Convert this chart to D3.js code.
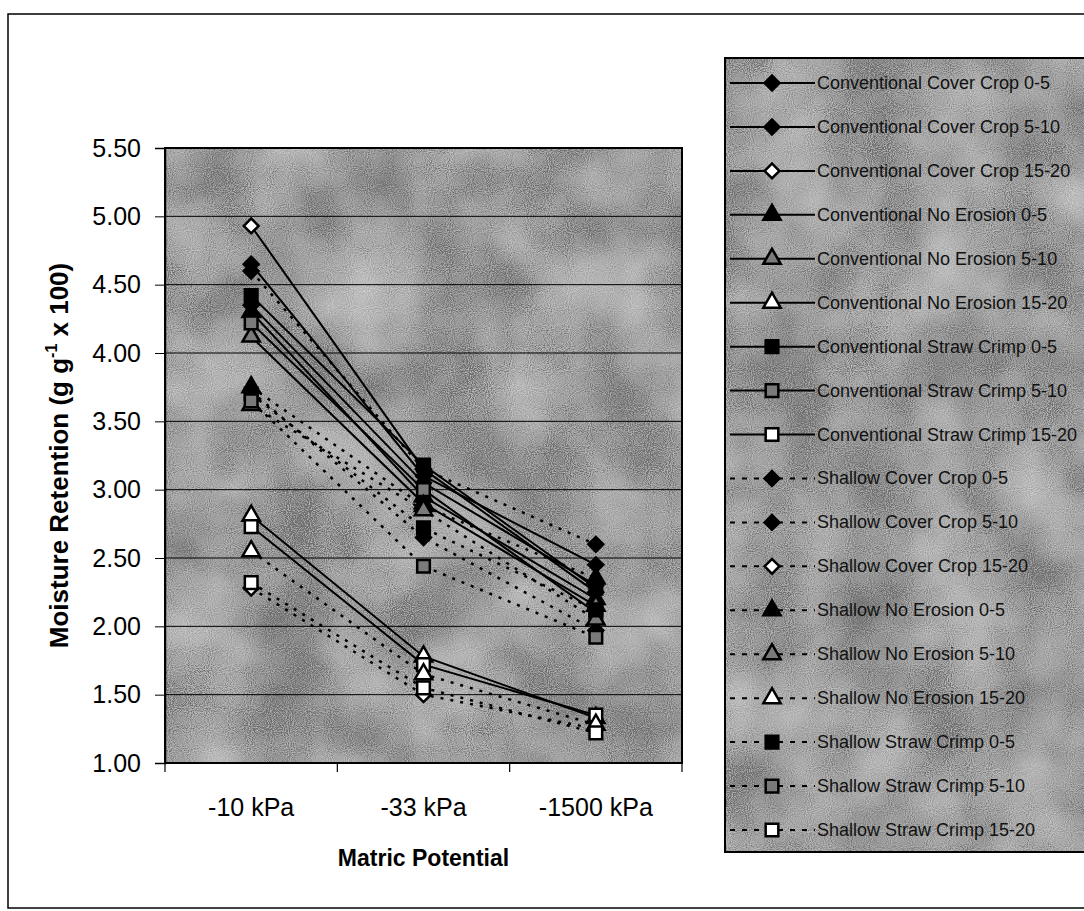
<!DOCTYPE html>
<html>
<head>
<meta charset="utf-8">
<script src="https://cdn.jsdelivr.net/npm/d3@7"></script>
<style>
  body { margin: 0; background: #fff; }
  svg { display: block; font-family: Arial, "Liberation Sans", sans-serif; }
</style>
</head>
<body>
<script>
// categories on the x axis
const categories = ["-10 kPa", "-33 kPa", "-1500 kPa"];

const seriesNames = [
  "Conventional Cover Crop 0-5",
  "Conventional Cover Crop 5-10",
  "Conventional Cover Crop 15-20",
  "Conventional No Erosion 0-5",
  "Conventional No Erosion 5-10",
  "Conventional No Erosion 15-20",
  "Conventional Straw Crimp 0-5",
  "Conventional Straw Crimp 5-10",
  "Conventional Straw Crimp 15-20",
  "Shallow Cover Crop 0-5",
  "Shallow Cover Crop 5-10",
  "Shallow Cover Crop 15-20",
  "Shallow No Erosion 0-5",
  "Shallow No Erosion 5-10",
  "Shallow No Erosion 15-20",
  "Shallow Straw Crimp 0-5",
  "Shallow Straw Crimp 5-10",
  "Shallow Straw Crimp 15-20"
];

// values at -10, -33, -1500 kPa
const convCoverCrop = [[4.65, 3.10, 2.45], [4.35, 3.05, 2.30], [4.93, 3.15, 2.25]];
const convNoErosion = [[4.30, 2.95, 2.20], [4.12, 2.90, 2.15], [2.81, 1.78, 1.33]];
const convStrawCrimp = [[4.42, 3.18, 2.28], [4.22, 3.00, 2.10], [2.73, 1.72, 1.35]];
const shalCoverCrop = [[4.60, 3.15, 2.60], [3.72, 2.65, 1.97], [2.28, 1.50, 1.25]];
const shalNoErosion = [[3.75, 2.88, 2.35], [3.62, 2.85, 2.05], [2.55, 1.65, 1.28]];
const shalStrawCrimp = [[3.70, 2.72, 2.12], [3.65, 2.44, 1.92], [2.32, 1.55, 1.22]];

const seriesValues = [].concat(convCoverCrop, convNoErosion, convStrawCrimp,
  shalCoverCrop, shalNoErosion, shalStrawCrimp);

const yTicks = [1.0, 1.5, 2.0, 2.5, 3.0, 3.5, 4.0, 4.5, 5.0, 5.5];

// marker look per series (style, not data)
const shapes = ["diamond", "diamond", "diamond", "triangle", "triangle", "triangle", "square", "square", "square"];
const fills = ["black", "black", "white", "black", "open", "white", "black", "open", "white"];

const width = 1084, height = 911;
const plot = { left: 165, right: 682, top: 148, bottom: 763 };

const svg = d3.select("body").append("svg")
  .attr("width", width)
  .attr("height", height);

// mottled gray texture like the scanned original
const defs = svg.append("defs");
const f = defs.append("filter").attr("id", "mottle")
  .attr("x", 0).attr("y", 0).attr("width", 1).attr("height", 1);
f.append("feTurbulence").attr("type", "fractalNoise")
  .attr("baseFrequency", 0.012).attr("numOctaves", 3).attr("seed", 4).attr("result", "big");
f.append("feTurbulence").attr("type", "fractalNoise")
  .attr("baseFrequency", 0.95).attr("numOctaves", 1).attr("seed", 2).attr("result", "fine");
f.append("feComposite").attr("in", "big").attr("in2", "fine")
  .attr("operator", "arithmetic").attr("k1", 0).attr("k2", 0.6).attr("k3", 0.85).attr("k4", -0.22)
  .attr("result", "mix");
f.append("feColorMatrix").attr("in", "mix").attr("type", "matrix")
  .attr("values", "0.65 0 0 0 0.16  0.65 0 0 0 0.16  0.65 0 0 0 0.16  0 0 0 0 1");

// outer chart frame
svg.append("rect")
  .attr("x", 8).attr("y", 14)
  .attr("width", 1100).attr("height", 894)
  .attr("fill", "white").attr("stroke", "black").attr("stroke-width", 1.5);

const x = d3.scaleBand().domain(categories).range([plot.left, plot.right]);
const y = d3.scaleLinear().domain([1, 5.5]).range([plot.bottom, plot.top]);

// plot area
svg.append("rect")
  .attr("x", plot.left).attr("y", plot.top)
  .attr("width", plot.right - plot.left).attr("height", plot.bottom - plot.top)
  .attr("filter", "url(#mottle)");

// grid
svg.append("g")
  .selectAll("line")
  .data(yTicks)
  .join("line")
  .attr("x1", plot.left).attr("x2", plot.right)
  .attr("y1", (d) => y(d)).attr("y2", (d) => y(d))
  .attr("stroke", "black").attr("stroke-width", 1);

svg.append("rect")
  .attr("x", plot.left).attr("y", plot.top)
  .attr("width", plot.right - plot.left).attr("height", plot.bottom - plot.top)
  .attr("fill", "none").attr("stroke", "black").attr("stroke-width", 2);

// y axis
const yAxis = d3.axisLeft(y).tickValues(yTicks).tickFormat(d3.format(".2f"))
  .tickSize(10).tickPadding(14);
svg.append("g")
  .attr("transform", `translate(${plot.left},0)`)
  .call(yAxis)
  .call((g) => g.select(".domain").attr("stroke-width", 1.5))
  .call((g) => g.selectAll("text").attr("font-size", 25).attr("font-family", "Arial").attr("fill", "black"));

// x axis with ticks between categories
const xAxis = d3.axisBottom(x).tickSize(0).tickPadding(35);
svg.append("g")
  .attr("transform", `translate(0,${plot.bottom})`)
  .call(xAxis)
  .call((g) => g.select(".domain").remove())
  .call((g) => g.selectAll("text").attr("font-size", 25).attr("font-family", "Arial").attr("fill", "black"));

svg.append("g")
  .selectAll("line")
  .data(categories.concat([null]))
  .join("line")
  .attr("x1", (d, i) => plot.left + i * x.step())
  .attr("x2", (d, i) => plot.left + i * x.step())
  .attr("y1", plot.bottom).attr("y2", plot.bottom + 9)
  .attr("stroke", "black").attr("stroke-width", 1.2);

// axis titles
svg.append("text")
  .attr("x", (plot.left + plot.right) / 2).attr("y", 866)
  .attr("text-anchor", "middle")
  .attr("font-size", 23).attr("font-weight", "bold")
  .text("Matric Potential");

const yTitle = svg.append("text")
  .attr("transform", `translate(68,${(plot.top + plot.bottom) / 2}) rotate(-90)`)
  .attr("text-anchor", "middle")
  .attr("font-size", 26).attr("font-weight", "bold");
yTitle.append("tspan").text("Moisture Retention (g g");
yTitle.append("tspan").attr("dy", -11).attr("font-size", 16).text("-1");
yTitle.append("tspan").attr("dy", 11).text(" x 100)");

// markers
function markerPath(shape) {
  if (shape === "diamond") return d3.symbol(d3.symbolSquare, 110)();
  if (shape === "triangle") return d3.symbol(d3.symbolTriangle, 130)();
  return d3.symbol(d3.symbolSquare, 160)();
}
function markerFill(kind) {
  if (kind === "black") return "black";
  if (kind === "white") return "white";
  return "#7a7a7a";
}
function drawMarker(g, i, cx, cy) {
  const k = i % 9;
  const rot = shapes[k] === "diamond" ? " rotate(45)" : "";
  g.append("path")
    .attr("d", markerPath(shapes[k]))
    .attr("transform", `translate(${cx},${cy})${rot}`)
    .attr("fill", markerFill(fills[k]))
    .attr("stroke", "black").attr("stroke-width", 2.5);
}

const line = d3.line()
  .x((d, i) => x(categories[i]) + x.bandwidth() / 2)
  .y((d) => y(d));

const lines = svg.append("g");
seriesValues.forEach((vals, i) => {
  lines.append("path")
    .attr("d", line(vals))
    .attr("fill", "none")
    .attr("stroke", "black")
    .attr("stroke-width", i >= 9 ? 2.5 : 2)
    .attr("stroke-dasharray", i >= 9 ? "3,7" : null);
});

const marks = svg.append("g");
seriesValues.forEach((vals, i) => {
  vals.forEach((v, j) => {
    drawMarker(marks, i, x(categories[j]) + x.bandwidth() / 2, y(v));
  });
});

// legend
const legend = { left: 725, top: 58, bottom: 852 };
svg.append("rect")
  .attr("x", legend.left).attr("y", legend.top)
  .attr("width", 400).attr("height", legend.bottom - legend.top)
  .attr("filter", "url(#mottle)");
svg.append("rect")
  .attr("x", legend.left).attr("y", legend.top)
  .attr("width", 400).attr("height", legend.bottom - legend.top)
  .attr("fill", "none").attr("stroke", "black").attr("stroke-width", 2);

const rowY = d3.scalePoint().domain(seriesNames).range([83, 830]);
const lg = svg.append("g");
seriesNames.forEach((name, i) => {
  const cy = rowY(name);
  lg.append("line")
    .attr("x1", 730).attr("x2", 815)
    .attr("y1", cy).attr("y2", cy)
    .attr("stroke", "black").attr("stroke-width", 2)
    .attr("stroke-dasharray", i >= 9 ? "5,7" : null);
  drawMarker(lg, i, 772, cy);
  lg.append("text")
    .attr("x", 817).attr("y", cy + 6)
    .attr("font-size", 18)
    .attr("fill", "#111")
    .text(name);
});
</script>
</body>
</html>
